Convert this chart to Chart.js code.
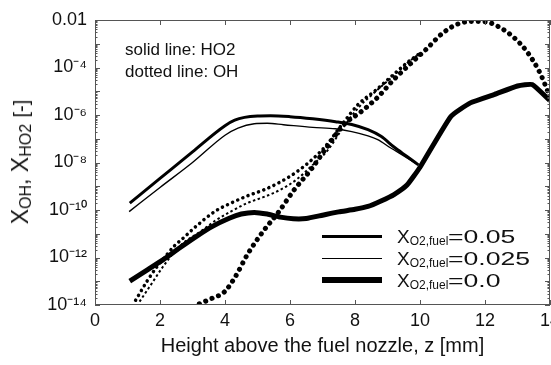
<!DOCTYPE html>
<html>
<head>
<meta charset="utf-8">
<script src="https://cdn.jsdelivr.net/npm/chart.js@4.4.0/dist/chart.umd.min.js"></script>
<style>
  html, body { margin: 0; padding: 0; background: #fff; }
  #wrap { position: relative; width: 551px; height: 365px; overflow: hidden;
          font-family: "Liberation Sans", Arial, sans-serif; color: #111; }
  #chart { position: absolute; left: 0; top: 0; }
  .note { position: absolute; left: 125px; top: 39px; font-size: 17px; line-height: 22px; }
  .ytitle { position: absolute; left: 23px; top: 162px; white-space: nowrap;
            transform: translate(-50%, -50%) rotate(-90deg); font-size: 23px; line-height: 26px; }
  .ytitle .s { font-size: 16px; vertical-align: -3px; }
  .ytitle .b { font-size: 20px; }
  .lg-line { position: absolute; left: 322px; width: 60px; background: #000; }
  .lg-text { position: absolute; left: 397px; font-size: 19px; line-height: 19px; white-space: nowrap; }
  .lg-text .s { font-size: 12px; vertical-align: -2px; }
  .lg-text .v { display: inline-block; transform: scaleX(1.4); transform-origin: left; }
</style>
</head>
<body>
<div id="wrap">
  <canvas id="chart" width="551" height="365"></canvas>
  <div class="note">solid line: HO2<br>dotted line: OH</div>
  <div class="ytitle">X<span class="s">OH</span>, X<span class="s">HO2</span> <span class="b">[-]</span></div>
  <div class="lg-line" style="top:235px;height:3px"></div>
  <div class="lg-line" style="top:257.5px;height:1.5px"></div>
  <div class="lg-line" style="top:277px;height:5.5px"></div>
  <div class="lg-text" style="top:227px">X<span class="s">O2,fuel</span><span class="v">=0.05</span></div>
  <div class="lg-text" style="top:249px">X<span class="s">O2,fuel</span><span class="v">=0.025</span></div>
  <div class="lg-text" style="top:271px">X<span class="s">O2,fuel</span><span class="v">=0.0</span></div>
</div>
<script>
// axis ticks
const xTicks = [0, 2, 4, 6, 8, 10, 12, 14];
const yTickValues = [1e-2, 1e-4, 1e-6, 1e-8, 1e-10, 1e-12, 1e-14];
const yTickLabels = ['0.01', '10⁻⁴', '10⁻⁶', '10⁻⁸', '10⁻¹⁰', '10⁻¹²', '10⁻¹⁴'];

// HO2, X_O2,fuel = 0.05 (solid)
const zHO2a = [1.07, 2, 3, 4, 4.3, 4.6, 5.0, 5.4, 6, 6.7, 7.4, 7.9, 8.4, 8.8, 9.2, 9.6, 9.95];
const ho2a = [1.95e-10, 2.14e-9, 2.82e-8, 3.55e-7, 6.03e-7, 7.94e-7, 9.12e-7, 9.33e-7, 8.51e-7, 6.92e-7, 5.25e-7, 3.98e-7, 2.4e-7, 1.26e-7, 4.47e-8, 1.78e-8, 7.94e-9];

// HO2, X_O2,fuel = 0.025 (thin solid)
const zHO2b = [1.05, 2, 3, 4, 4.4, 4.9, 5.3, 5.8, 6.7, 7.4, 7.9, 8.4, 8.7, 9.1, 9.5, 9.95];
const ho2b = [8.51e-11, 8.91e-10, 1e-8, 1.41e-7, 2.82e-7, 4.27e-7, 4.47e-7, 3.89e-7, 3.02e-7, 2.63e-7, 2.0e-7, 1.32e-7, 9.12e-8, 4.07e-8, 1.91e-8, 7.94e-9];

// HO2, X_O2,fuel = 0.0 (thick solid)
const zHO2c = [1.07, 1.6, 2.09, 2.6, 3.11, 3.6, 4.13, 4.5, 4.9, 5.3, 5.7, 6.1, 6.5, 7.0, 7.5, 8.0, 8.4, 8.8, 9.2, 9.6, 10.0, 10.95, 11.55, 12.3, 13.0, 13.45, 14.0];
const ho2c = [1.02e-13, 2.95e-13, 7.94e-13, 2.51e-12, 7.59e-12, 2.0e-11, 4.47e-11, 6.76e-11, 7.94e-11, 6.76e-11, 5.01e-11, 4.27e-11, 4.37e-11, 6.03e-11, 8.32e-11, 1.07e-10, 1.41e-10, 2.4e-10, 4.47e-10, 1.12e-9, 6.31e-9, 8.71e-7, 3.24e-6, 7.41e-6, 1.66e-5, 1.91e-5, 3.98e-6];

// OH, X_O2,fuel = 0.05 (dotted)
const zOHa = [1.25, 1.6, 1.9, 2.2, 2.45, 2.7, 3.1, 3.7, 4.2, 4.7, 5.2, 5.7, 6.2, 6.7, 7.1, 7.6, 8.1, 8.6, 9.1, 9.6, 10.0];
const oha = [1.58e-14, 1e-13, 3.98e-13, 1.26e-12, 3.16e-12, 6.31e-12, 2.0e-11, 8.91e-11, 2.0e-10, 3.98e-10, 7.08e-10, 1.51e-9, 3.98e-9, 1.41e-8, 5.01e-8, 3.98e-7, 2.82e-6, 1e-5, 3.98e-5, 1.58e-4, 3.98e-4];

// OH, X_O2,fuel = 0.025 (fine dotted)
const zOHb = [1.37, 1.68, 2.09, 2.45, 2.8, 3.2, 3.7, 4.2, 4.7, 5.2, 5.7, 6.2, 6.7, 7.15, 7.6, 8.1, 8.6, 9.1, 9.6, 10.0];
const ohb = [1.38e-14, 5.89e-14, 4.07e-13, 1.78e-12, 5.01e-12, 1.12e-11, 3.55e-11, 8.91e-11, 2.0e-10, 3.55e-10, 7.08e-10, 1.91e-9, 7.94e-9, 3.16e-8, 2.51e-7, 2.0e-6, 8.91e-6, 3.55e-5, 1.51e-4, 3.98e-4];

// OH, X_O2,fuel = 0.0 (heavy dotted)
const zOHc = [3.21, 3.6, 3.98, 4.3, 4.7, 5.2, 5.62, 6.13, 6.64, 7.1, 7.66, 8.2, 8.7, 9.2, 9.7, 10.2, 10.7, 11.2, 11.7, 12.1, 12.5, 12.9, 13.3, 13.7, 14.0];
const ohc = [1.12e-14, 1.91e-14, 3.55e-14, 1.41e-13, 1.41e-12, 1.41e-11, 7.24e-11, 7.08e-10, 4.9e-9, 3.8e-8, 3.98e-7, 1.41e-6, 5.62e-6, 3.16e-5, 1.41e-4, 6.03e-4, 2.82e-3, 7.08e-3, 8.71e-3, 7.94e-3, 4.47e-3, 1.78e-3, 4.47e-4, 5.62e-5, 5.62e-6];

const pts = (zs, vs) => zs.map((z, i) => ({ x: z, y: vs[i] }));
const FONT = '"Liberation Sans", Arial, sans-serif';

// frame + inward ticks on all four sides
const frameTicks = {
  id: 'frameTicks',
  afterDraw(chart) {
    const { ctx, chartArea: a, scales: { x, y } } = chart;
    ctx.save();
    ctx.strokeStyle = '#555';
    ctx.lineWidth = 1;
    ctx.strokeRect(a.left + 0.5, a.top + 0.5, a.width - 1, a.height - 1);
    ctx.beginPath();
    xTicks.forEach(v => {
      const px = Math.round(x.getPixelForValue(v)) + 0.5;
      ctx.moveTo(px, a.bottom); ctx.lineTo(px, a.bottom - 5);
      ctx.moveTo(px, a.top); ctx.lineTo(px, a.top + 5);
    });
    for (let e = -14; e <= -2; e++) {
      for (let m = 1; m <= 9; m++) {
        const v = m * Math.pow(10, e);
        if (v > 1e-2 * 1.0001) break;
        const py = Math.round(y.getPixelForValue(v)) + 0.5;
        const len = m === 1 ? 5 : 2.5;
        ctx.moveTo(a.left, py); ctx.lineTo(a.left + len, py);
        ctx.moveTo(a.right, py); ctx.lineTo(a.right - len, py);
      }
    }
    ctx.stroke();
    ctx.restore();
  }
};

const dotted = { borderCapStyle: 'round', cubicInterpolationMode: 'monotone' };

new Chart(document.getElementById('chart'), {
  type: 'line',
  data: {
    datasets: [
      { label: 'HO2 0.05', data: pts(zHO2a, ho2a), borderWidth: 3, cubicInterpolationMode: 'monotone' },
      { label: 'HO2 0.025', data: pts(zHO2b, ho2b), borderWidth: 1.4, cubicInterpolationMode: 'monotone' },
      { label: 'HO2 0.0', data: pts(zHO2c, ho2c), borderWidth: 5, tension: 0.15 },
      { label: 'OH 0.05', data: pts(zOHa, oha), borderWidth: 3.5, borderDash: [0.1, 5.5], ...dotted },
      { label: 'OH 0.025', data: pts(zOHb, ohb), borderWidth: 2, borderDash: [2.5, 2.5], cubicInterpolationMode: 'monotone' },
      { label: 'OH 0.0', data: pts(zOHc, ohc), borderWidth: 5, borderDash: [0.1, 6.8], ...dotted },
    ],
  },
  options: {
    responsive: false,
    animation: false,
    layout: { autoPadding: false, padding: { top: 20, right: 1, left: 0, bottom: 0 } },
    elements: {
      point: { radius: 0 },
      line: { borderColor: '#000', fill: false, tension: 0.3 },
    },
    plugins: { legend: { display: false }, tooltip: { enabled: false } },
    scales: {
      x: {
        type: 'linear', min: 0, max: 14,
        afterBuildTicks: s => { s.ticks = xTicks.map(v => ({ value: v })); },
        afterFit: s => { s.height = 60; s.paddingLeft = 0; s.paddingRight = 0; },
        grid: { display: false, drawTicks: false },
        border: { display: false },
        ticks: { padding: 5, color: '#111', font: { family: FONT, size: 18 }, maxRotation: 0, autoSkip: false },
        title: {
          display: true, text: 'Height above the fuel nozzle, z [mm]', color: '#111',
          font: { family: FONT, size: 20 }, padding: { top: 0, bottom: 7 },
        },
      },
      y: {
        type: 'logarithmic', min: 1e-14, max: 1e-2,
        afterBuildTicks: s => { s.ticks = yTickValues.map(v => ({ value: v })); },
        afterFit: s => { s.width = 95; s.paddingTop = 0; s.paddingBottom = 0; },
        grid: { display: false, drawTicks: false },
        border: { display: false },
        ticks: {
          padding: 8, color: '#111', font: { family: FONT, size: 18 }, autoSkip: false,
          callback: (v) => {
            const i = yTickValues.findIndex(t => Math.abs(Math.log10(t) - Math.log10(v)) < 1e-6);
            return i >= 0 ? yTickLabels[i] : '';
          },
        },
      },
    },
  },
  plugins: [frameTicks],
});
</script>
</body>
</html>
